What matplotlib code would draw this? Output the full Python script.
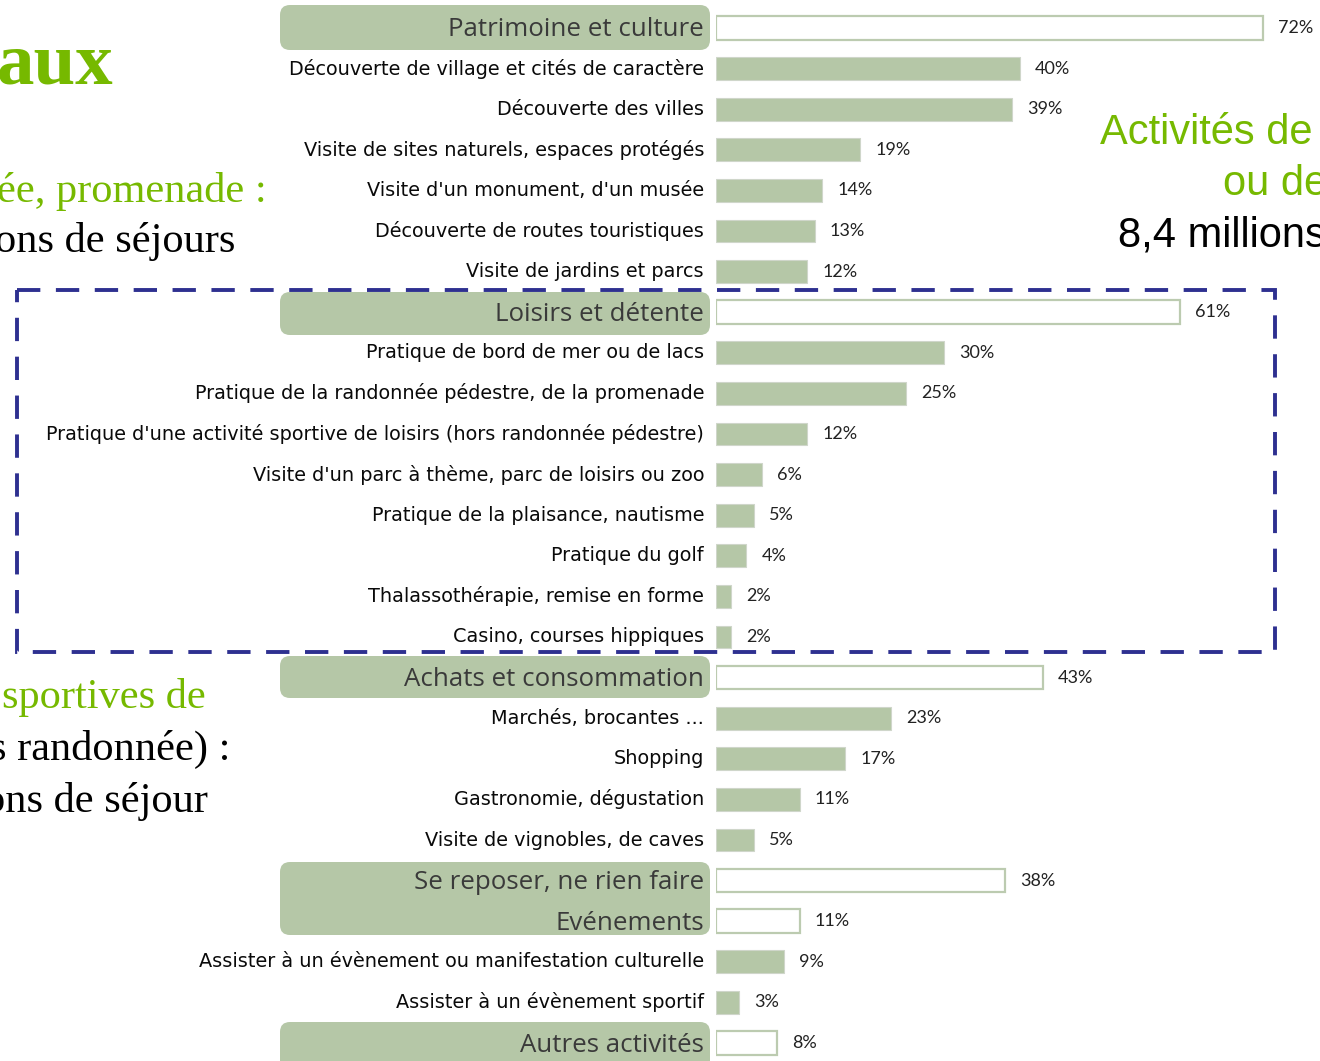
import matplotlib
matplotlib.use("Agg")
import matplotlib.pyplot as plt
from matplotlib.patches import FancyBboxPatch, Rectangle

categories = [
    "Patrimoine et culture",
    "Découverte de village et cités de caractère",
    "Découverte des villes",
    "Visite de sites naturels, espaces protégés",
    "Visite d'un monument, d'un musée",
    "Découverte de routes touristiques",
    "Visite de jardins et parcs",
    "Loisirs et détente",
    "Pratique de bord de mer ou de lacs",
    "Pratique de la randonnée pédestre, de la promenade",
    "Pratique d'une activité sportive de loisirs (hors randonnée pédestre)",
    "Visite d'un parc à thème, parc de loisirs ou zoo",
    "Pratique de la plaisance, nautisme",
    "Pratique du golf",
    "Thalassothérapie, remise en forme",
    "Casino, courses hippiques",
    "Achats et consommation",
    "Marchés, brocantes ...",
    "Shopping",
    "Gastronomie, dégustation",
    "Visite de vignobles, de caves",
    "Se reposer, ne rien faire",
    "Evénements",
    "Assister à un évènement ou manifestation culturelle",
    "Assister à un évènement sportif",
    "Autres activités",
]
values = [72, 40, 39, 19, 14, 13, 12,
          61, 30, 25, 12, 6, 5, 4, 2, 2,
          43, 23, 17, 11, 5,
          38, 11, 9, 3, 8]
is_header = [True, False, False, False, False, False, False,
             True, False, False, False, False, False, False, False, False,
             True, False, False, False, False,
             True, True, False, False, True]

GREEN = "#76B900"
SAGE = "#b5c7a7"
NAVY = "#2e3090"
W, H = 1320, 1061

fig = plt.figure(figsize=(W / 100, H / 100), dpi=100)
fig.patch.set_facecolor("white")

# Overlay axes in pixel coordinates for decorations
deco = fig.add_axes([0, 0, 1, 1])
deco.set_xlim(0, W)
deco.set_ylim(H, 0)
deco.axis("off")

# Bar axes: 1% = 7.6 px, starting at x=716 px; rows spaced 40.6 px from y=28
x0, pxpct = 716, 7.6
row0, dy = 28, 40.6
bax = fig.add_axes([x0 / W, 0, 600 / W, 1])
bax.set_xlim(0, 600 / pxpct)
bax.set_ylim((H - row0) / dy, -row0 / dy)
bax.axis("off")
bax.patch.set_alpha(0)

# header rounded boxes (decorative background)
def hbox(y0, y1):
    deco.add_patch(FancyBboxPatch((284, y0 + 4), 422, (y1 - y0) - 8,
                                  boxstyle="round,pad=4,rounding_size=10",
                                  facecolor=SAGE, edgecolor="none", zorder=1))

hbox(5, 50)
hbox(292, 335)
hbox(656, 698)
hbox(862, 935)
hbox(1022, 1075)

for i, (cat, v, hd) in enumerate(zip(categories, values, is_header)):
    if hd:
        bax.barh(i, v, height=0.58, color="white", edgecolor="#bccbb0",
                 linewidth=1.6, zorder=3)
        bax.annotate(cat, xy=(0, i), xytext=(-12, -2), textcoords="offset pixels",
                     ha="right", va="center", fontsize=18.6, family="Open Sans",
                     color="#3a3a3a", zorder=4)
    else:
        bax.barh(i, v, height=0.56, color=SAGE, edgecolor="#cfd6ca",
                 linewidth=0.8, zorder=3)
        bax.annotate(cat, xy=(0, i), xytext=(-12, 0), textcoords="offset pixels",
                     ha="right", va="center", fontsize=13.9, family="DejaVu Sans",
                     color="#0a0a0a", zorder=4)
    bax.annotate(f"{v}%", xy=(v, i), xytext=(15, 0), textcoords="offset pixels",
                 ha="left", va="center", fontsize=13, family="Lato",
                 color="#222222", zorder=4)

# dashed frame around "Loisirs et détente"
deco.add_patch(Rectangle((17, 290), 1258, 362, fill=False, edgecolor=NAVY,
                         linewidth=2.8, linestyle=(0, (6, 4)), zorder=5))

# Slide texts (partially cropped in reference)
serif = "Liberation Serif"
deco.text(-3, 84, "aux", fontsize=54, family=serif, fontweight="bold",
          color=GREEN, va="baseline", ha="left")
deco.text(-3, 202, "ée, promenade :", fontsize=30.5, family=serif,
          color=GREEN, va="baseline", ha="left")
deco.text(-5, 252, "ons de séjours", fontsize=30.5, family=serif,
          color="black", va="baseline", ha="left")
deco.text(2, 708, "sportives de", fontsize=30.5, family=serif,
          color=GREEN, va="baseline", ha="left")
deco.text(-10, 760, "s randonnée) :", fontsize=30.5, family=serif,
          color="black", va="baseline", ha="left")
deco.text(-16, 812, "ons de séjour", fontsize=30.5, family=serif,
          color="black", va="baseline", ha="left")

sans = "Liberation Sans"
deco.text(1100, 144, "Activités de", fontsize=30, family=sans,
          color=GREEN, va="baseline", ha="left")
deco.text(1223, 195, "ou de", fontsize=30, family=sans,
          color=GREEN, va="baseline", ha="left")
deco.text(1118, 247, "8,4 millions", fontsize=30, family=sans,
          color="black", va="baseline", ha="left")

fig.savefig("out.png", dpi=100)
